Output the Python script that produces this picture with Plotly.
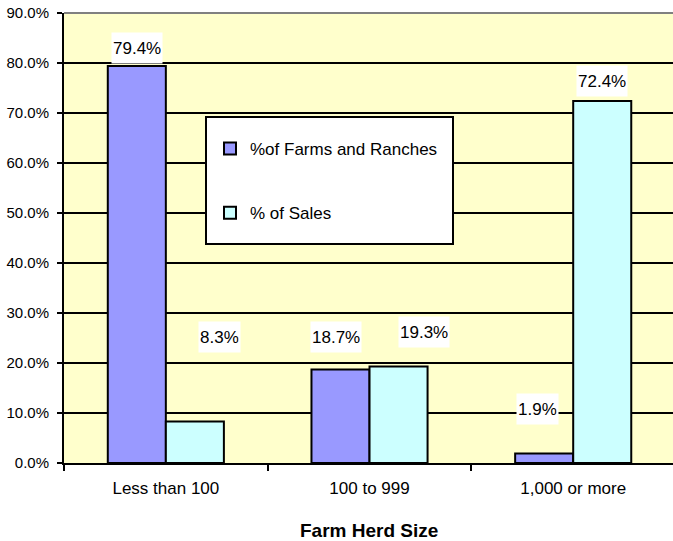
import plotly.graph_objects as go

# ---- data ----
categories = ["Less than 100", "100 to 999", "1,000 or more"]
farms_pct = [79.4, 18.7, 1.9]
sales_pct = [8.3, 19.3, 72.4]
series_names = ["%of Farms and Ranches", "% of Sales"]
y_tick_vals = [0, 10, 20, 30, 40, 50, 60, 70, 80, 90]
y_tick_text = ["0.0%", "10.0%", "20.0%", "30.0%", "40.0%", "50.0%",
               "60.0%", "70.0%", "80.0%", "90.0%"]
x_title = "Farm Herd Size"

# ---- style ----
FONT = "Liberation Sans, Arial, sans-serif"
farm_color = "#9999FF"
sales_color = "#CCFFFF"
plot_bg = "#FFFFCC"
bargap = 0.43
# label pixel offsets (xshift, yshift) relative to bar top
farm_label_shift = [(0, 18), (-4.5, 33), (-6.5, 45)]
sales_label_shift = [(25, 85), (25, 34.5), (0, 20.5)]

fig = go.Figure()
fig.add_trace(go.Bar(
    x=categories, y=farms_pct, name=series_names[0],
    marker=dict(color=farm_color, line=dict(color="black", width=2)),
    legendgroup="a", hoverinfo="skip"))
fig.add_trace(go.Bar(
    x=categories, y=sales_pct, name=series_names[1],
    marker=dict(color=sales_color, line=dict(color="black", width=2)),
    legendgroup="b", hoverinfo="skip"))

half = (1 - bargap) / 4.0
annotations = []
for series, shifts, off in ((farms_pct, farm_label_shift, -half),
                            (sales_pct, sales_label_shift, half)):
    for i, v in enumerate(series):
        xs, ys = shifts[i]
        annotations.append(dict(
            x=i + off, y=v, xref="x", yref="y",
            text=f"{v:.1f}%", showarrow=False,
            xanchor="center", yanchor="middle",
            xshift=xs, yshift=ys,
            bgcolor="white", borderpad=1, height=28,
            font=dict(family=FONT, size=17, color="black")))

annotations.append(dict(
    x=0.5, y=0, xref="paper", yref="paper", yshift=-67,
    text=f"<b>{x_title}</b>", showarrow=False,
    xanchor="center", yanchor="middle",
    font=dict(family=FONT, size=19, color="black")))

L, R, T, B = 64, 0, 13, 78
W, H = 673, 541
pw, ph = W - L - R, H - T - B

def px2paper_x(px):
    return (px - L) / pw

def px2paper_y(py):
    return (H - B - py) / ph

shapes = [
    # legend box
    dict(type="rect", xref="paper", yref="paper",
         x0=px2paper_x(206), x1=px2paper_x(453),
         y0=px2paper_y(244), y1=px2paper_y(117),
         fillcolor="white", line=dict(color="black", width=2), layer="above"),
    # top border of plot area
    dict(type="line", xref="paper", yref="paper", x0=0, x1=1, y0=1, y1=1,
         line=dict(color="#808080", width=2), layer="above"),
]

fig.update_layout(
    width=W, height=H,
    margin=dict(l=L, r=R, t=T, b=B, pad=0),
    paper_bgcolor="white", plot_bgcolor=plot_bg,
    barmode="group", bargap=bargap, bargroupgap=0,
    font=dict(family=FONT, size=17, color="black"),
    showlegend=True,
    legend=dict(
        x=px2paper_x(210), y=px2paper_y(131), xanchor="left", yanchor="top",
        bgcolor="rgba(0,0,0,0)", borderwidth=0,
        traceorder="grouped", tracegroupgap=39,
        font=dict(family=FONT, size=17, color="black")),
    annotations=annotations,
    shapes=shapes,
    xaxis=dict(
        type="category", range=[-0.5, 2.49], tickson="boundaries",
        showgrid=False, ticks="outside", ticklen=6, tickwidth=2,
        tickcolor="black", showline=True, linecolor="black", linewidth=2,
        ticklabelstandoff=9,
        tickfont=dict(family=FONT, size=17, color="black"), zeroline=False),
    yaxis=dict(
        range=[0, 90], tickvals=y_tick_vals, ticktext=y_tick_text,
        showgrid=True, gridcolor="black", gridwidth=2,
        ticks="outside", ticklen=5, tickwidth=2, tickcolor="black",
        showline=True, linecolor="black", linewidth=2,
        ticklabelstandoff=5, zeroline=False,
        tickfont=dict(family=FONT, size=15, color="black")),
)

fig.write_html(
    "out.html",
    config={"displayModeBar": False},
    post_script="document.body.style.margin='0px';"
                "document.body.style.overflow='hidden';")
